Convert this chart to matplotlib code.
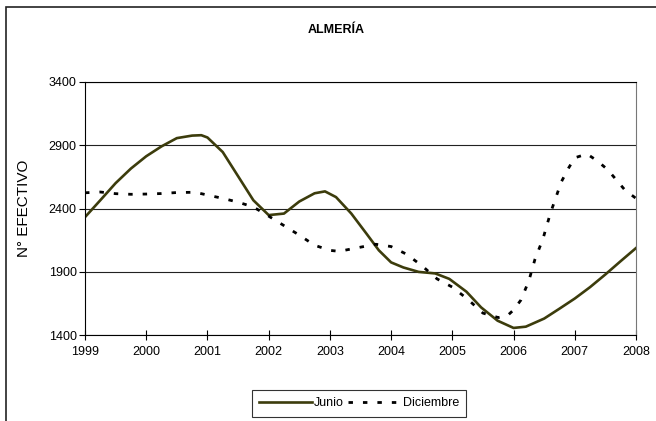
import matplotlib

matplotlib.use("Agg")
import matplotlib.pyplot as plt
from matplotlib.patches import Rectangle

# Values
junio_x = [1999.0, 1999.25, 1999.5, 1999.75, 2000.0, 2000.25, 2000.5, 2000.75, 2000.9,
           2001.0, 2001.25, 2001.5, 2001.75, 2002.0, 2002.25, 2002.5, 2002.75, 2002.92,
           2003.1, 2003.35, 2003.6, 2003.8, 2004.0, 2004.2, 2004.45, 2004.72, 2004.95,
           2005.23, 2005.47, 2005.74, 2006.0, 2006.2, 2006.5, 2006.75, 2007.0, 2007.25,
           2007.5, 2007.75, 2008.0]
junio_y = [2332, 2465, 2600, 2715, 2812, 2890, 2955, 2975, 2978,
           2960, 2845, 2655, 2465, 2348, 2360, 2455, 2520, 2535,
           2490, 2360, 2200, 2070, 1975, 1935, 1900, 1888, 1845,
           1744, 1620, 1515, 1458, 1468, 1532, 1610, 1690, 1780,
           1880, 1985, 2088]

diciembre_x = [1999.0, 1999.25, 1999.5, 1999.75, 2000.0, 2000.25, 2000.5, 2000.8, 2001.0,
               2001.25, 2001.5, 2001.75, 2002.0, 2002.25, 2002.5, 2002.75, 2003.0, 2003.15,
               2003.5, 2003.75, 2004.0, 2004.25, 2004.5, 2004.75, 2005.0, 2005.25, 2005.5,
               2005.75, 2005.9, 2006.0, 2006.12, 2006.25, 2006.35, 2006.48, 2006.6, 2006.78,
               2006.9, 2007.0, 2007.2, 2007.37, 2007.54, 2007.68, 2007.82, 2008.0]
diciembre_y = [2524, 2530, 2517, 2512, 2514, 2518, 2526, 2528, 2506,
               2480, 2450, 2412, 2340, 2265, 2190, 2110, 2070, 2062,
               2095, 2118, 2100, 2040, 1950, 1845, 1780, 1685, 1575,
               1540, 1555, 1600, 1678, 1830, 2000, 2160, 2360, 2610,
               2720, 2800, 2830, 2775, 2705, 2625, 2545, 2480]

year_ticks = list(range(1999, 2009))
value_ticks = [1400, 1900, 2400, 2900, 3400]

plt.rcParams["font.family"] = ["Liberation Sans", "DejaVu Sans"]

fig = plt.figure(figsize=(6.56, 4.21), dpi=100)
ax = fig.add_axes([85 / 656, 1 - 335.3 / 421, (636 - 85) / 656, (335.3 - 81.7) / 421])

# outer chart frame
fig.patches.append(Rectangle((5.5 / 656, -0.2), 1.2, 1.2 - 7.3 / 421,
                             transform=fig.transFigure, fill=False,
                             edgecolor="#222222", linewidth=1.2))

ax.plot(junio_x, junio_y, color="#3c3c0c", linewidth=1.9, label="Junio")
ax.plot(diciembre_x, diciembre_y, color="black", linewidth=2.0,
        linestyle=(0, (1.6, 3.6)), label="Diciembre")

ax.set_xlim(1999, 2008)
ax.set_ylim(1400, 3400)
ax.set_xticks(year_ticks)
ax.set_yticks(value_ticks)
ax.tick_params(axis="x", direction="inout", length=7, width=0.8, labelsize=9, pad=4)
ax.tick_params(axis="y", direction="out", length=4, width=0.8, labelsize=9, pad=2)
ax.yaxis.grid(True, color="#222222", linewidth=0.8)
ax.set_axisbelow(True)

for side in ["left", "bottom", "top"]:
    ax.spines[side].set_color("black")
    ax.spines[side].set_linewidth(0.8)
ax.spines["right"].set_color("#777777")
ax.spines["right"].set_linewidth(0.8)

ax.set_ylabel("N° EFECTIVO", fontsize=11, labelpad=13)

fig.text(336 / 656, 1 - 30 / 421, "ALMERÍA", ha="center", va="center",
         fontsize=9, fontweight="bold")

leg = fig.legend(loc="center", bbox_to_anchor=(359 / 656, 1 - 403 / 421), ncol=2,
                 frameon=True, fancybox=False, fontsize=9, handlelength=4.2,
                 columnspacing=0.3, handletextpad=0.2, borderpad=0.6,
                 borderaxespad=0)
leg.get_frame().set_edgecolor("black")
leg.get_frame().set_linewidth(0.8)

fig.savefig("out.png", dpi=100)
